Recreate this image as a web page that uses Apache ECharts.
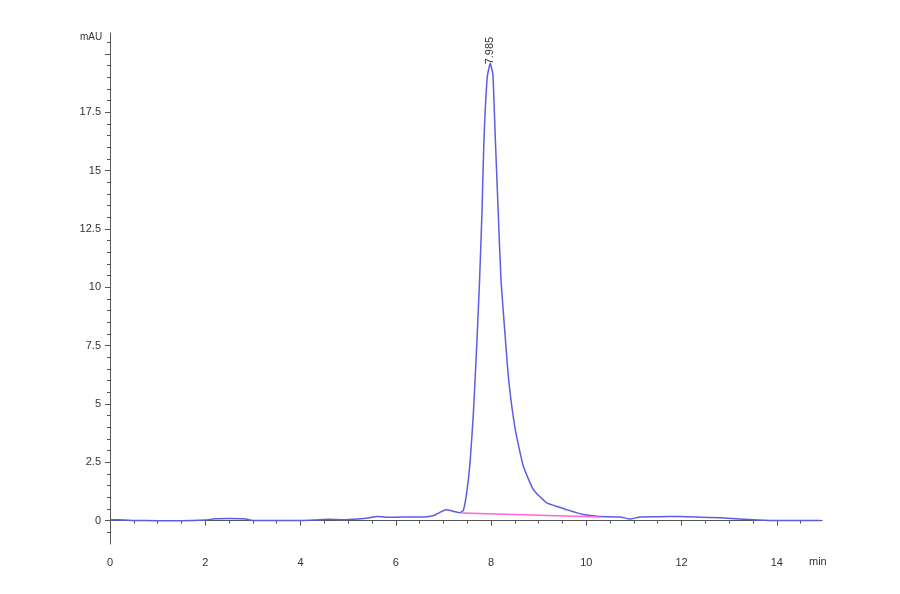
<!DOCTYPE html>
<html lang="en">
<head>
    <meta charset="UTF-8">
    <script src="https://cdn.jsdelivr.net/npm/echarts@6/dist/echarts.min.js"></script>
    <title>Chromatogram</title>
    <style>
        body { margin: 0; background: #fff; }
    </style>
</head>
<body>
    <div id="main" style="width: 900px;height:594px;"></div>
    <script type="text/javascript">
        // retention time (min) and signal (mAU)
        const timeMin = [0, 0.3, 0.5, 1.0, 1.5, 2.0, 2.2, 2.5, 2.85, 3.0, 3.5, 4.0, 4.3, 4.6, 4.9, 5.2, 5.45, 5.6, 5.8, 6.0,
            6.3, 6.6, 6.8, 6.95, 7.05, 7.15, 7.25, 7.35, 7.42, 7.49, 7.56, 7.63, 7.70, 7.76, 7.81, 7.85, 7.92, 7.985,
            8.04, 8.09, 8.15, 8.21, 8.29, 8.37, 8.51, 8.68, 8.89, 9.17, 9.4, 9.59, 9.94, 10.29, 10.71, 10.92, 11.13,
            11.5, 11.97, 12.4, 12.8, 13.3, 13.87, 14.4, 14.92];
        const signal = [0.04, 0.03, 0.01, 0.0, 0.0, 0.03, 0.08, 0.09, 0.07, 0.01, 0.01, 0.01, 0.03, 0.06, 0.04, 0.07, 0.12, 0.18, 0.15, 0.15,
            0.16, 0.16, 0.22, 0.38, 0.47, 0.44, 0.38, 0.34, 0.45, 1.2, 2.5, 4.6, 7.5, 10.3, 13.2, 16.2, 19.0, 19.6,
            19.1, 16.4, 13.3, 10.3, 8.1, 6.05, 3.9, 2.33, 1.33, 0.76, 0.6, 0.47, 0.26, 0.18, 0.16, 0.07, 0.16,
            0.17, 0.18, 0.15, 0.12, 0.06, 0.01, 0.01, 0.01];

        // integration baseline under the main peak
        const baseTime = [7.39, 10.29];
        const baseSignal = [0.33, 0.16];

        const peakTime = 7.985;
        const peakSignal = 19.6;
        const peakLabel = '7.985';

        const xMajor = [0, 2, 4, 6, 8, 10, 12, 14];
        const yMajor = [0, 2.5, 5, 7.5, 10, 12.5, 15, 17.5];

        // minor ticks every 0.5 on both axes
        const xMinor = [];
        for (let v = 0.5; v < 14.95; v += 0.5) { if (v % 2 !== 0) xMinor.push(v); }
        const yMinor = [];
        for (let v = -0.5; v < 20.9; v += 0.5) { if (v % 2.5 !== 0) yMinor.push(v); }

        const axisColor = '#555';
        const labelStyle = { color: '#333', fontSize: 11, fontFamily: 'Liberation Sans' };

        let myChart = echarts.init(document.getElementById('main'));
        let options = {
            animation: false,
            backgroundColor: '#fff',
            grid: { left: 110, right: 78, top: 33, bottom: 50 },
            xAxis: [{
                type: 'value', min: 0, max: 14.95, position: 'bottom',
                axisLine: { show: true, lineStyle: { color: axisColor } },
                axisTick: { show: true, customValues: xMajor, length: 5, lineStyle: { color: axisColor } },
                axisLabel: Object.assign({ customValues: xMajor, margin: 13 }, labelStyle),
                splitLine: { show: false }
            }, {
                type: 'value', min: 0, max: 14.95, position: 'bottom', offset: 0,
                axisLine: { show: false },
                axisTick: { show: true, customValues: xMinor, length: 3, lineStyle: { color: axisColor } },
                axisLabel: { show: false },
                splitLine: { show: false }
            }],
            yAxis: [{
                type: 'value', min: -1, max: 20.9, position: 'left',
                axisLine: { show: true, lineStyle: { color: axisColor } },
                axisTick: { show: true, customValues: yMajor.concat([20]), length: 5, lineStyle: { color: axisColor } },
                axisLabel: Object.assign({ customValues: yMajor, margin: 9 }, labelStyle),
                splitLine: { show: false }
            }, {
                type: 'value', min: -1, max: 20.9, position: 'left', offset: 0,
                axisLine: { show: false },
                axisTick: { show: true, customValues: yMinor, length: 3, lineStyle: { color: axisColor } },
                axisLabel: { show: false },
                splitLine: { show: false }
            }],
            graphic: [
                { type: 'text', left: 80, top: 32, style: { text: 'mAU', fill: '#333', font: '10px Liberation Sans' } },
                { type: 'text', left: 809, top: 556, style: { text: 'min', fill: '#333', font: '11px Liberation Sans' } }
            ],
            series: [{
                name: 'Signal',
                type: 'line',
                xAxisIndex: 0, yAxisIndex: 0,
                showSymbol: false,
                smooth: 0.15,
                lineStyle: { color: '#5c5ce6', width: 1.5 },
                data: timeMin.map((t, i) => [t, signal[i]]),
                markPoint: {
                    symbol: 'circle', symbolSize: 0,
                    label: {
                        show: true, formatter: peakLabel, rotate: 90,
                        position: 'top', distance: -1, align: 'left', verticalAlign: 'middle',
                        color: '#333', fontSize: 11, fontFamily: 'Liberation Sans'
                    },
                    data: [{ coord: [peakTime, peakSignal] }]
                }
            }, {
                name: 'Baseline',
                type: 'line',
                xAxisIndex: 0, yAxisIndex: 0,
                showSymbol: false,
                lineStyle: { color: '#ff66dd', width: 1.5 },
                data: baseTime.map((t, i) => [t, baseSignal[i]])
            }]
        };
        myChart.setOption(options);
    </script>
</body>
</html>
